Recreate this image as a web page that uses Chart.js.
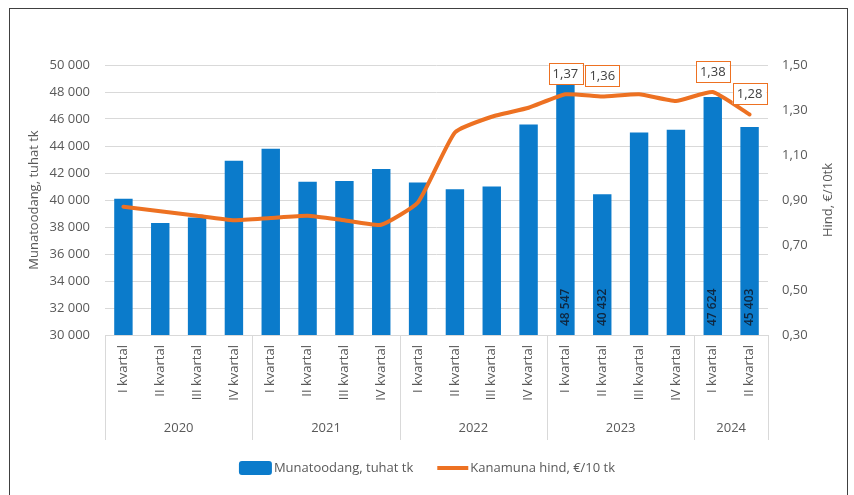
<!DOCTYPE html>
<html lang="et">
<head>
    <meta charset="UTF-8">
    <title>Munatoodang ja kanamuna hind</title>
    <script src="https://cdn.jsdelivr.net/npm/chart.js"></script>
    <style>
        html, body { margin: 0; padding: 0; background: #fff; }
        #wrap { position: relative; width: 854px; height: 495px; overflow: hidden; }
        #frame { position: absolute; left: 9px; top: 8px; width: 837px; height: 500px; border: 1px solid #404040; }
        canvas { position: absolute; left: 0; top: 0; }
    </style>
</head>
<body>
<div id="wrap">
    <div id="frame"></div>
    <canvas id="eggChart" width="854" height="495"></canvas>
</div>

<script>
    // andmed
    const quarters = ["I kvartal", "II kvartal", "III kvartal", "IV kvartal",
                      "I kvartal", "II kvartal", "III kvartal", "IV kvartal",
                      "I kvartal", "II kvartal", "III kvartal", "IV kvartal",
                      "I kvartal", "II kvartal", "III kvartal", "IV kvartal",
                      "I kvartal", "II kvartal"];
    const years = ["2020", "2021", "2022", "2023", "2024"];
    const yearSpans = [4, 4, 4, 4, 2];
    const production = [40100, 38300, 38700, 42900, 43800, 41350, 41400, 42300,
                        41300, 40800, 41000, 45600, 48547, 40432, 45000, 45200, 47624, 45403];
    const price = [0.87, 0.85, 0.83, 0.81, 0.82, 0.83, 0.81, 0.79,
                   0.89, 1.20, 1.27, 1.31, 1.37, 1.36, 1.37, 1.34, 1.38, 1.28];
    const labelledPoints = [12, 13, 16, 17];

    const FONT = "'Open Sans', sans-serif";
    const TEXT = "#595959";
    const BLUE = "#0b7bcb";
    const ORANGE = "#ed7122";

    function fmtThousands(v) {
        return String(Math.round(v)).replace(/\B(?=(\d{3})+(?!\d))/g, "\u00a0");
    }
    function fmtPrice(v) {
        return v.toFixed(2).replace(".", ",");
    }

    // lisajoonistused: aastad, teljepealkirjad, legend, sildid
    const extras = {
        id: "extras",
        afterDatasetsDraw(chart) {
            const ctx = chart.ctx;
            const bars = chart.getDatasetMeta(0).data;
            const pts = chart.getDatasetMeta(1).data;
            const base = chart.scales.y.getPixelForValue(chart.scales.y.min);
            ctx.save();
            // tulpade väärtused
            ctx.font = "600 12px " + FONT;
            ctx.fillStyle = "#0f2740";
            ctx.textAlign = "left";
            ctx.textBaseline = "middle";
            labelledPoints.forEach(i => {
                const b = bars[i];
                ctx.save();
                ctx.translate(b.x, base - 9);
                ctx.rotate(-Math.PI / 2);
                ctx.fillText(fmtThousands(production[i]), 0, 0);
                ctx.restore();
            });
            // hinna sildid
            ctx.font = "13px " + FONT;
            ctx.textAlign = "center";
            labelledPoints.forEach(i => {
                const p = pts[i];
                const t = fmtPrice(price[i]);
                const w = ctx.measureText(t).width + 8;
                const h = 21;
                const cx = p.x, cy = p.y - 21;
                ctx.fillStyle = "#fff";
                ctx.fillRect(cx - w / 2, cy - h / 2, w, h);
                ctx.strokeStyle = ORANGE;
                ctx.lineWidth = 1;
                ctx.strokeRect(Math.round(cx - w / 2) + 0.5, Math.round(cy - h / 2) + 0.5, Math.round(w), h);
                ctx.fillStyle = "#404040";
                ctx.fillText(t, cx, cy + 1);
            });
            ctx.restore();
        },
        afterDraw(chart) {
            const ctx = chart.ctx;
            const x = chart.scales.x;
            const area = chart.chartArea;
            const cw = x.width / quarters.length;
            ctx.save();

            // aastate eraldajad ja aastad
            ctx.strokeStyle = "#d9d9d9";
            ctx.lineWidth = 1;
            ctx.font = "13px " + FONT;
            ctx.fillStyle = TEXT;
            ctx.textAlign = "center";
            ctx.textBaseline = "middle";
            let start = 0;
            const edges = [0];
            yearSpans.forEach((n, k) => {
                const x0 = x.left + start * cw;
                const x1 = x.left + (start + n) * cw;
                ctx.fillText(years[k], (x0 + x1) / 2, 428);
                start += n;
                edges.push(start);
            });
            edges.forEach(e => {
                const px = Math.round(x.left + e * cw) + 0.5;
                ctx.beginPath();
                ctx.moveTo(px, area.bottom);
                ctx.lineTo(px, 440);
                ctx.stroke();
            });

            // teljepealkirjad
            const cy = (area.top + area.bottom) / 2;
            ctx.save();
            ctx.translate(34, cy);
            ctx.rotate(-Math.PI / 2);
            ctx.fillText("Munatoodang, tuhat tk", 0, 0);
            ctx.restore();
            ctx.save();
            ctx.translate(828, cy);
            ctx.rotate(-Math.PI / 2);
            ctx.fillText("Hind, €/10tk", 0, 0);
            ctx.restore();

            // legend
            const t1 = "Munatoodang, tuhat tk";
            const t2 = "Kanamuna hind, €/10 tk";
            const w1 = ctx.measureText(t1).width;
            const w2 = ctx.measureText(t2).width;
            const total = 33 + 2 + w1 + 24 + 31 + 2 + w2;
            let lx = chart.width / 2 - total / 2;
            const ly = 468;
            ctx.fillStyle = BLUE;
            ctx.beginPath();
            ctx.roundRect(lx, ly - 7, 33, 14, 3);
            ctx.fill();
            lx += 35;
            ctx.fillStyle = TEXT;
            ctx.textAlign = "left";
            ctx.fillText(t1, lx, ly);
            lx += w1 + 24;
            ctx.strokeStyle = ORANGE;
            ctx.lineWidth = 4;
            ctx.beginPath();
            ctx.moveTo(lx, ly);
            ctx.lineTo(lx + 31, ly);
            ctx.stroke();
            lx += 33;
            ctx.fillText(t2, lx, ly);

            ctx.restore();
        }
    };

    new Chart(document.getElementById("eggChart").getContext("2d"), {
        data: {
            labels: quarters,
            datasets: [{
                type: "bar",
                label: "Munatoodang, tuhat tk",
                data: production,
                backgroundColor: BLUE,
                barPercentage: 0.5,
                categoryPercentage: 1.0,
                yAxisID: "y",
                order: 1
            }, {
                type: "line",
                label: "Kanamuna hind, €/10 tk",
                data: price,
                borderColor: ORANGE,
                borderWidth: 4,
                borderCapStyle: "round",
                borderJoinStyle: "round",
                pointRadius: 0,
                tension: 0.15,
                yAxisID: "y1",
                order: 0
            }]
        },
        options: {
            responsive: false,
            animation: false,
            devicePixelRatio: 1,
            layout: { padding: { top: 65, left: 0, right: 0, bottom: 0 } },
            plugins: {
                legend: { display: false },
                tooltip: { enabled: false }
            },
            scales: {
                x: {
                    grid: { display: false, drawTicks: false },
                    border: { display: true, color: "#d9d9d9" },
                    ticks: {
                        minRotation: 90, maxRotation: 90, autoSkip: false, padding: 10,
                        color: TEXT, font: { size: 13, family: FONT }
                    },
                    afterFit: s => { s.height = 160; }
                },
                y: {
                    position: "left",
                    min: 30000, max: 50000,
                    grid: { color: "#d9d9d9", drawTicks: false },
                    border: { display: false },
                    ticks: {
                        stepSize: 2000, padding: 15,
                        color: TEXT, font: { size: 13, family: FONT },
                        callback: v => fmtThousands(v)
                    },
                    afterFit: s => { s.width = 105; }
                },
                y1: {
                    position: "right",
                    min: 0.3, max: 1.5,
                    grid: { display: false, drawTicks: false },
                    border: { display: false },
                    ticks: {
                        stepSize: 0.2, padding: 14,
                        color: TEXT, font: { size: 13, family: FONT },
                        callback: v => fmtPrice(v)
                    },
                    afterFit: s => { s.width = 86; }
                }
            }
        },
        plugins: [extras]
    });
</script>
</body>
</html>
